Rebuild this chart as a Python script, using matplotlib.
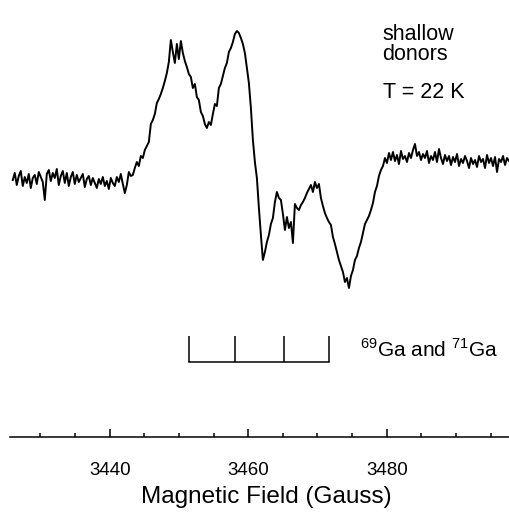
import numpy as np
import matplotlib
matplotlib.use("Agg")
import matplotlib.pyplot as plt
from matplotlib.ticker import MultipleLocator

plt.rcParams['font.family'] = ['Liberation Sans', 'DejaVu Sans']
plt.rcParams['mathtext.fontset'] = 'custom'
plt.rcParams['mathtext.rm'] = 'Liberation Sans'

# EPR signal (arbitrary units), one row = 20 px of trace
signal = [
    0, 7, -5, 4, 9, -6, 3, -3, 6, -8,
    2, 5, -4, 8, 3, -2, -20, 6, 10, -1,
    7, 2, 11, -5, 4, 9, -3, 7, -6, 3,
    8, -4, 5, -2, 2, 6, -7, 1, 4, -5,
    2, -3, -8, 1, -4, 3, -6, -1, -9, 2,
    -3, -6, 3, -2, 6, -4, -13, -5, 8, 4,
    5, 12, 18, 14, 24, 22, 30, 34, 38, 56,
    60, 66, 77, 81, 86, 92, 99, 107, 118, 140,
    128, 117, 136, 121, 139, 127, 119, 113, 106, 103,
    92, 96, 83, 80, 68, 64, 56, 52, 58, 55,
    66, 76, 74, 92, 96, 104, 112, 117, 128, 132,
    138, 146, 149, 147, 142, 136, 127, 112, 97, 72,
    40, 18, 2, -28, -55, -80, -72, -62, -55, -44,
    -38, -22, -12, -18, -20, -34, -50, -37, -48, -42,
    -63, -24, -28, -30, -25, -22, -18, -13, -9, -5,
    -12, -2, -8, -4, -18, -26, -33, -38, -42, -45,
    -57, -64, -72, -80, -86, -92, -102, -98, -108, -96,
    -90, -80, -76, -68, -62, -53, -44, -40, -36, -30,
    -23, -12, -6, 4, 10, 14, 22, 17, 27, 20,
    28, 19, 25, 16, 29, 21, 24, 18, 27, 22,
    30, 36, 24, 28, 20, 26, 22, 29, 17, 24,
    20, 28, 18, 31, 22, 16, 25, 19, 24, 15,
    23, 18, 26, 14, 21, 17, 24, 19, 12, 22,
    16, 20, 13, 24, 18, 21, 12, 25, 17, 22,
    14, 23, 8, 21, 18, 24, 15, 22, 19,
]
field_start = 3426.0   # Gauss
field_end = 3497.66
field = np.linspace(field_start, field_end, len(signal))

# hyperfine stick positions for 69Ga / 71Ga
ga_lines = [3451.5, 3458.1, 3465.1, 3471.7]

fig = plt.figure(figsize=(5.1, 5.12), dpi=100)
ax = fig.add_axes([10 / 510, 75 / 512, 500 / 510, 437 / 512])

ax.plot(field, signal, color='black', lw=1.4)

# stick diagram
ax.plot([ga_lines[0], ga_lines[-1]], [-182, -182], color='black', lw=1.1)
ax.vlines(ga_lines, -182, -156, color='black', lw=1.1)
ax.text(3476.1, -177, r'$^{69}$Ga and $^{71}$Ga', fontsize=15, va='baseline')

ax.text(3479.4, 140, 'shallow', fontsize=15.5, va='baseline')
ax.text(3479.4, 120, 'donors', fontsize=15.5, va='baseline')
ax.text(3479.4, 82, 'T = 22 K', fontsize=15.5, va='baseline')

ax.set_xlim(3425.6, 3497.8)
ax.set_ylim(-257, 180)
for side in ['top', 'left', 'right']:
    ax.spines[side].set_visible(False)
ax.spines['bottom'].set_linewidth(1.1)
ax.set_yticks([])
ax.xaxis.set_major_locator(MultipleLocator(20))
ax.xaxis.set_minor_locator(MultipleLocator(5))
ax.tick_params(axis='x', which='major', direction='in', length=6, width=1.1,
               labelsize=13.5, pad=18)
ax.tick_params(axis='x', which='minor', direction='in', length=3, width=1.1)

fig.text(266 / 510, 1 - 497 / 512, 'Magnetic Field (Gauss)', fontsize=17.5,
         ha='center', va='center')

fig.savefig('out.png', dpi=100)
